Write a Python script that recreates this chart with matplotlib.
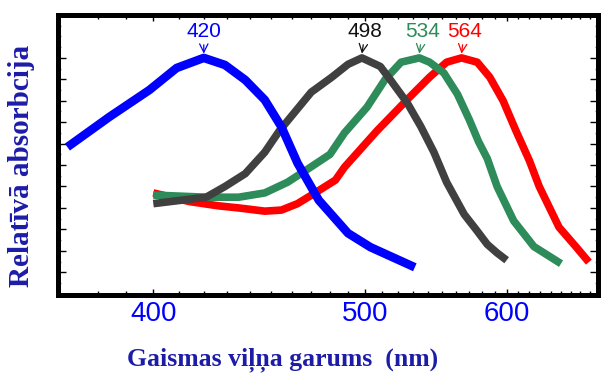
import numpy as np
import matplotlib
matplotlib.use('Agg')
import matplotlib.pyplot as plt
from matplotlib.ticker import FixedLocator, NullFormatter

# absorption curves (wavelength nm, relative value)
blue_nm = [370, 384, 398.5, 409, 420, 429, 438, 447, 455, 463, 474, 490, 503, 531]
blue_v = [0.584, 0.724, 0.850, 0.953, 1.0, 0.967, 0.897, 0.804, 0.678, 0.509, 0.336, 0.182, 0.117, 0.023]

gray_nm = [400, 421, 429, 438, 447, 454, 470, 481, 490, 498, 509, 515, 526, 535, 544, 553, 566, 575, 584, 592, 600]
gray_v = [0.32, 0.35, 0.40, 0.46, 0.56, 0.66, 0.84, 0.91, 0.97, 1.0, 0.96, 0.90, 0.79, 0.68, 0.56, 0.42, 0.27, 0.20, 0.13, 0.09, 0.056]

green_nm = [400, 421, 435, 447, 458, 468, 480, 488, 501, 512, 522, 534, 541, 551, 561, 570, 577, 584, 592, 606, 624, 650]
green_v = [0.36, 0.35, 0.35, 0.37, 0.42, 0.48, 0.55, 0.65, 0.77, 0.90, 0.98, 1.0, 0.98, 0.93, 0.83, 0.71, 0.61, 0.53, 0.40, 0.24, 0.12, 0.04]

red_nm = [400, 414, 426, 435, 447, 455, 463, 472, 483, 488, 507, 528, 541, 553, 564, 576, 586, 597, 608, 620, 629, 648, 665, 679]
red_v = [0.37, 0.33, 0.31, 0.30, 0.285, 0.29, 0.32, 0.37, 0.43, 0.49, 0.66, 0.82, 0.91, 0.98, 1.0, 0.98, 0.91, 0.80, 0.66, 0.52, 0.40, 0.21, 0.12, 0.047]

peaks = [420, 498, 534, 564]
peak_labels = ['420', '498', '534', '564']
peak_text_x = [420, 500, 536, 566]
peak_colors = ['#0000ff', '#111111', '#2e8b57', '#ff0000']

xtick_vals = [400, 500, 600]

c_blue = '#0000ff'
c_gray = '#404040'
c_green = '#2e8b5a'
c_red = '#ff0000'
c_label = '#1c1ca8'


def fwd(x):
    x = np.asarray(x, dtype=float)
    with np.errstate(divide='ignore'):
        return -1.0 / x


def inv(y):
    y = np.asarray(y, dtype=float)
    with np.errstate(divide='ignore'):
        return -1.0 / y


fig = plt.figure(figsize=(6.06, 3.76), dpi=100)
ax = fig.add_axes([0.0957, 0.215, 0.891, 0.745])
ax.set_xscale('function', functions=(fwd, inv))

ax.plot(red_nm, red_v, color=c_red, lw=5.5, solid_joinstyle='round', solid_capstyle='butt', zorder=2)
ax.plot(green_nm, green_v, color=c_green, lw=5.5, solid_joinstyle='round', solid_capstyle='butt', zorder=3)
ax.plot(gray_nm, gray_v, color=c_gray, lw=5.5, solid_joinstyle='round', solid_capstyle='butt', zorder=4)
ax.plot(blue_nm, blue_v, color=c_blue, lw=6.2, solid_joinstyle='round', solid_capstyle='butt', zorder=5)

for p, lab, tx, col in zip(peaks, peak_labels, peak_text_x, peak_colors):
    ax.annotate(lab, xy=(p, 1.02), xytext=(tx, 1.125), ha='center', va='center',
                fontsize=15, color=col, family='Liberation Sans',
                arrowprops=dict(arrowstyle='->', color=col, lw=0.9,
                                shrinkA=1, shrinkB=0))

ax.set_xlim(367, 689)
ax.set_ylim(-0.107, 1.20)

ax.xaxis.set_major_locator(FixedLocator(xtick_vals))
ax.set_xticklabels([str(v) for v in xtick_vals])
ax.xaxis.set_minor_locator(FixedLocator(np.arange(380, 690, 10)))
ax.xaxis.set_minor_formatter(NullFormatter())
ax.yaxis.set_major_locator(FixedLocator(np.arange(0, 1.01, 0.1)))
ax.yaxis.set_minor_locator(FixedLocator(np.arange(-0.05, 1.2, 0.05)))
ax.set_yticklabels([])

ax.tick_params(axis='both', which='both', direction='in', top=True, right=True, width=1.0)
ax.tick_params(axis='x', which='major', length=4, pad=4, labelsize=20, labelcolor=c_blue)
ax.tick_params(axis='x', which='minor', length=3)
ax.tick_params(axis='y', which='major', length=6)
ax.tick_params(axis='y', which='minor', length=2, color='#888888')
for lab in ax.get_xticklabels():
    lab.set_family('Liberation Sans')

for s in ax.spines.values():
    s.set_linewidth(3.6)
    s.set_color('black')

ax.set_xlabel('Gaismas viļņa garums  (nm)', family='Liberation Serif', fontweight='bold',
              fontsize=18.5, color=c_label, va='center')
ax.xaxis.set_label_coords(0.415, -0.232)
ax.set_ylabel('Relatīvā absorbcija', family='Liberation Serif', fontweight='bold',
              fontsize=21, color=c_label, va='center')
ax.yaxis.set_label_coords(-0.068, 0.46)

fig.savefig('out.png', dpi=100)
